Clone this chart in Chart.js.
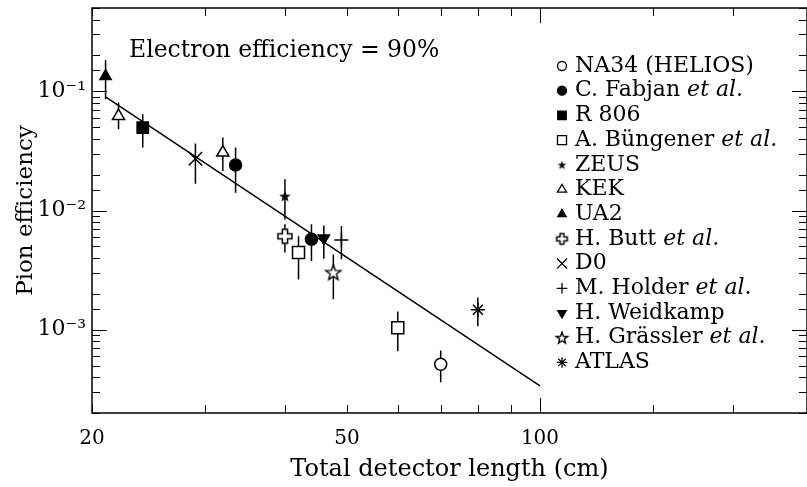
<!DOCTYPE html>
<html>
<head>
<meta charset="utf-8">
<script src="https://cdn.jsdelivr.net/npm/chart.js@4.4.0/dist/chart.umd.min.js"></script>
<style>
  html, body { margin: 0; padding: 0; background: #fff; overflow: hidden; }
  canvas { display: block; }
</style>
</head>
<body>
<canvas id="pionChart" width="807" height="487"></canvas>
<script>
// experiments, in legend order
const experiments = ['NA34 (HELIOS)', 'C. Fabjan', 'R 806', 'A. Büngener', 'ZEUS', 'KEK', 'UA2',
  'H. Butt', 'D0', 'M. Holder', 'H. Weidkamp', 'H. Grässler', 'ATLAS'];
const etAl = [false, true, false, true, false, false, false, true, false, true, false, true, false];

// one entry per measurement (pointExp = index into experiments)
const pointExp    = [6, 5, 2, 8, 5, 1, 4, 7, 3, 1, 10, 9, 11, 3, 0, 12];
const pointLength = [21, 22, 24, 29, 32, 33.5, 40, 40, 42, 44, 46, 49, 47.6, 60, 70, 80];
const pointEff    = [0.134, 0.062, 0.0496, 0.0272, 0.0306, 0.0241, 0.0132, 0.00608, 0.00444,
  0.00574, 0.00586, 0.00566, 0.00302, 0.00104, 0.000513, 0.00147];
const errLow      = [0.0857, 0.048, 0.0337, 0.0168, 0.0215, 0.0141, 0.0084, 0.00444, 0.00264,
  0.00377, 0.00394, 0.0039, 0.0018, 0.00066, 0.000362, 0.00107];
const errHigh     = [0.183, 0.0804, 0.0641, 0.0364, 0.0409, 0.0337, 0.0183, 0.00765, 0.00608,
  0.00765, 0.0075, 0.0074, 0.00428, 0.00142, 0.000668, 0.00186];

// fitted line
const fitLength = [21, 100];
const fitEff = [0.0896, 0.000337];

const xLabels = [20, 50, 100];

const SERIF = '"DejaVu Serif", "Liberation Serif", serif';

// --- custom marker images ---
function makeStar(outer, inner, filled) {
  const s = Math.ceil(outer * 2 + 4);
  const c = document.createElement('canvas');
  c.width = c.height = s;
  const g = c.getContext('2d');
  g.translate(s / 2, s / 2 + 0.5);
  g.beginPath();
  for (let k = 0; k < 10; k++) {
    const r = k % 2 ? inner : outer;
    const a = -Math.PI / 2 + k * Math.PI / 5;
    g.lineTo(r * Math.cos(a), r * Math.sin(a));
  }
  g.closePath();
  g.fillStyle = filled ? '#000' : '#fff';
  g.fill();
  if (!filled) { g.lineWidth = 1.4; g.strokeStyle = '#000'; g.stroke(); }
  return c;
}
function makeOpenCross(half, arm) {
  const s = Math.ceil(half * 2 + 4);
  const c = document.createElement('canvas');
  c.width = c.height = s;
  const g = c.getContext('2d');
  g.translate(s / 2, s / 2);
  g.beginPath();
  g.moveTo(-arm, -half); g.lineTo(arm, -half); g.lineTo(arm, -arm); g.lineTo(half, -arm);
  g.lineTo(half, arm); g.lineTo(arm, arm); g.lineTo(arm, half); g.lineTo(-arm, half);
  g.lineTo(-arm, arm); g.lineTo(-half, arm); g.lineTo(-half, -arm); g.lineTo(-arm, -arm);
  g.closePath();
  g.fillStyle = '#fff'; g.fill();
  g.lineWidth = 1.5; g.strokeStyle = '#000'; g.stroke();
  return c;
}

function markerStyles(k) {
  return [
    { pointStyle: 'circle', radius: 6 * k, fill: '#fff' },
    { pointStyle: 'circle', radius: 6 * k, fill: '#000' },
    { pointStyle: 'rect', radius: 8 * k, fill: '#000' },
    { pointStyle: 'rect', radius: 8.5 * k, fill: '#fff' },
    { pointStyle: makeStar(6 * k, 2.5 * k, true), radius: 6 * k, fill: '#000' },
    { pointStyle: 'triangle', radius: 7 * k, fill: '#fff' },
    { pointStyle: 'triangle', radius: 6.5 * k, fill: '#000' },
    { pointStyle: makeOpenCross(7 * k, 2.6 * k), radius: 7 * k, fill: '#fff' },
    { pointStyle: 'crossRot', radius: 9.5 * k, fill: '#000' },
    { pointStyle: 'cross', radius: 7 * k, fill: '#000' },
    { pointStyle: 'triangle', radius: 6.5 * k, fill: '#000', rotation: 180 },
    { pointStyle: makeStar(8 * k, 3.3 * k, false), radius: 8 * k, fill: '#fff' },
    { pointStyle: 'star', radius: 7 * k, fill: '#000' }
  ];
}
const chartMarkers = markerStyles(1);
const legendMarkers = markerStyles(0.75);

const isDecade = v => Math.abs(Math.log10(v) - Math.round(Math.log10(v))) < 1e-6;
const sup = { '-': '\u207B', '1': '\u00B9', '2': '\u00B2', '3': '\u00B3', '4': '\u2074' };

const datasets = experiments.map((name, e) => {
  const m = chartMarkers[e];
  const pts = [];
  pointExp.forEach((pe, i) => { if (pe === e) pts.push({ x: pointLength[i], y: pointEff[i] }); });
  return {
    type: 'scatter',
    label: name,
    data: pts,
    pointStyle: m.pointStyle,
    pointRadius: m.radius,
    pointRotation: m.rotation || 0,
    pointBackgroundColor: m.fill,
    pointBorderColor: '#000',
    pointBorderWidth: 1.5
  };
});
datasets.push({
  type: 'line',
  label: 'fit',
  data: fitLength.map((v, i) => ({ x: v, y: fitEff[i] })),
  borderColor: '#000',
  borderWidth: 1.5,
  pointRadius: 0
});

// error bars, under the markers
const errorBars = {
  id: 'errorBars',
  beforeDatasetsDraw(chart) {
    const { ctx, scales: { x, y } } = chart;
    ctx.save();
    ctx.strokeStyle = '#000';
    ctx.lineWidth = 1.5;
    ctx.beginPath();
    pointLength.forEach((v, i) => {
      const px = x.getPixelForValue(v);
      ctx.moveTo(px, y.getPixelForValue(errLow[i]));
      ctx.lineTo(px, y.getPixelForValue(errHigh[i]));
    });
    ctx.stroke();
    ctx.restore();
  }
};

// box with inward ticks on all four sides
const frameTicks = {
  id: 'frameTicks',
  afterDatasetsDraw(chart) {
    const { ctx, chartArea: a, scales: { x, y } } = chart;
    ctx.save();
    ctx.strokeStyle = '#000';
    ctx.lineWidth = 1;
    ctx.beginPath();
    x.ticks.forEach(t => {
      const px = Math.round(x.getPixelForValue(t.value)) + 0.5;
      const len = isDecade(t.value) ? 15 : 8;
      ctx.moveTo(px, a.bottom); ctx.lineTo(px, a.bottom - len);
      ctx.moveTo(px, a.top); ctx.lineTo(px, a.top + len);
    });
    y.ticks.forEach(t => {
      const py = Math.round(y.getPixelForValue(t.value)) + 0.5;
      const len = isDecade(t.value) ? 15 : 8;
      ctx.moveTo(a.left, py); ctx.lineTo(a.left + len, py);
      ctx.moveTo(a.right, py); ctx.lineTo(a.right - len, py);
    });
    ctx.stroke();
    ctx.lineWidth = 1.5;
    ctx.strokeRect(a.left, a.top, a.right - a.left, a.bottom - a.top);
    ctx.restore();
  }
};

// legend with italic "et al." and the condition label
const notes = {
  id: 'notes',
  afterDraw(chart) {
    const { ctx, chartArea: a } = chart;
    ctx.save();
    ctx.fillStyle = '#000';
    ctx.textBaseline = 'middle';
    ctx.font = '23.5px ' + SERIF;
    ctx.fillText('Electron efficiency = 90%', a.left + 37, a.top + 43);

    const sx = a.left + 470, tx = a.left + 483;
    experiments.forEach((name, e) => {
      const yy = a.top + 58 + e * 24.7;
      const m = legendMarkers[e];
      ctx.fillStyle = m.fill;
      ctx.strokeStyle = '#000';
      ctx.lineWidth = 1.3;
      Chart.helpers.drawPoint(ctx, {
        pointStyle: m.pointStyle, radius: m.radius, rotation: m.rotation || 0, borderWidth: 1.3
      }, sx, yy);
      ctx.fillStyle = '#000';
      ctx.font = '22px ' + SERIF;
      ctx.fillText(name, tx, yy);
      if (etAl[e]) {
        const w = ctx.measureText(name + ' ').width;
        ctx.font = 'italic 22px ' + SERIF;
        ctx.fillText('et al.', tx + w, yy);
      }
    });
    ctx.restore();
  }
};

new Chart(document.getElementById('pionChart'), {
  data: { datasets: datasets },
  options: {
    responsive: false,
    animation: false,
    devicePixelRatio: 1,
    layout: { autoPadding: false, padding: { top: 8, right: 0, left: 0, bottom: 0 } },
    plugins: { legend: { display: false }, tooltip: { enabled: false } },
    scales: {
      x: {
        type: 'logarithmic',
        min: 20,
        max: 261,
        grid: { display: false, drawTicks: false },
        border: { display: false },
        ticks: {
          autoSkip: false,
          maxRotation: 0,
          padding: 14,
          color: '#000',
          font: { family: SERIF, size: 20 },
          callback: v => xLabels.some(l => Math.abs(l - v) < 1e-6) ? String(Math.round(v)) : ''
        },
        title: {
          display: true,
          text: 'Total detector length (cm)',
          color: '#000',
          font: { family: SERIF, size: 24 },
          padding: { top: 0, bottom: 3 }
        },
        afterFit: s => { s.height = 74; s.paddingLeft = 0; s.paddingRight = 0; }
      },
      y: {
        type: 'logarithmic',
        min: 0.0002,
        max: 0.5,
        grid: { display: false, drawTicks: false },
        border: { display: false },
        ticks: {
          autoSkip: false,
          padding: 6,
          color: '#000',
          font: { family: SERIF, size: 22 },
          callback: v => {
            if (!isDecade(v)) return '';
            const p = String(Math.round(Math.log10(v)));
            return '10' + p.split('').map(c => sup[c]).join('');
          }
        },
        title: {
          display: true,
          text: 'Pion efficiency',
          color: '#000',
          font: { family: SERIF, size: 23 },
          padding: { top: 12, bottom: 0 }
        },
        afterFit: s => { s.width = 92; s.paddingTop = 0; s.paddingBottom = 0; }
      }
    }
  },
  plugins: [errorBars, frameTicks, notes]
});
</script>
</body>
</html>
